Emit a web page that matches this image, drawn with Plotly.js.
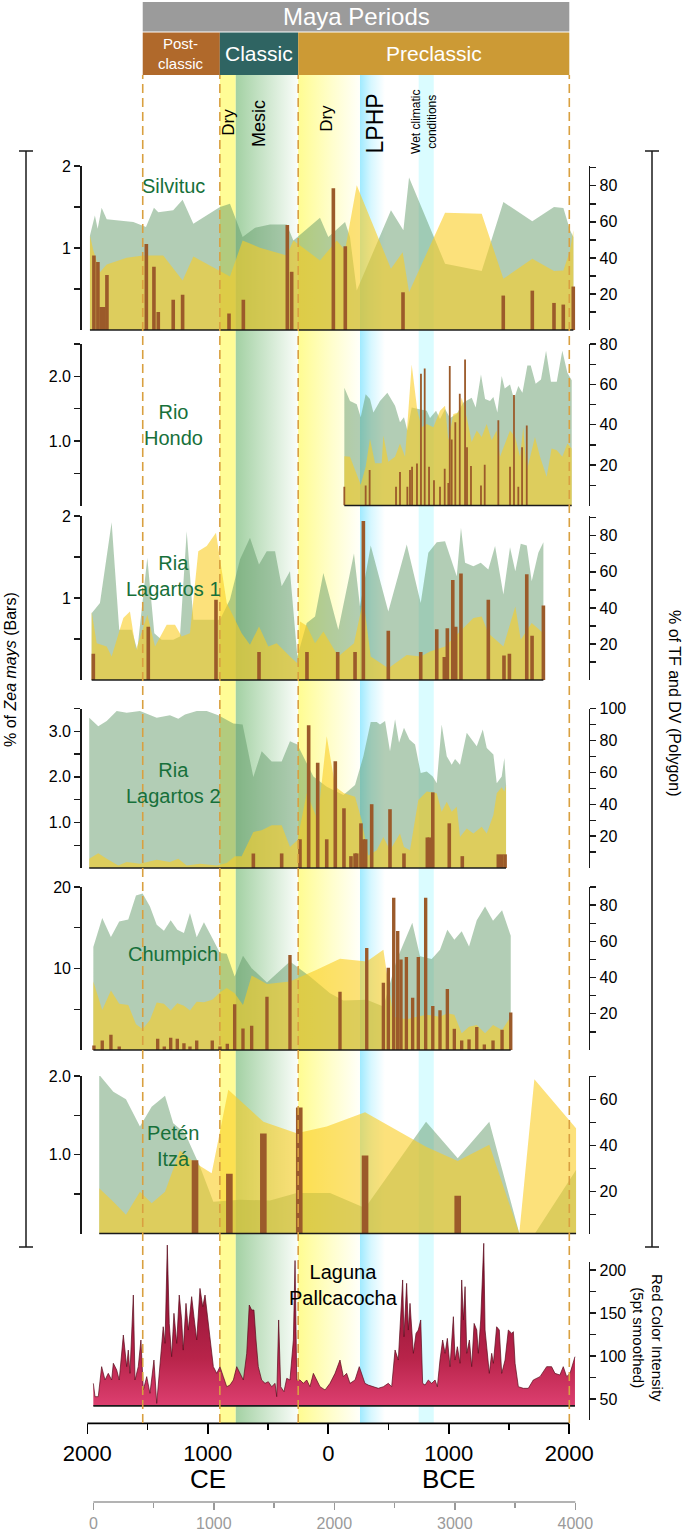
<!DOCTYPE html>
<html><head><meta charset="utf-8">
<script src="https://cdn.plot.ly/plotly-3.0.1.min.js"></script>
<style>html,body{margin:0;padding:0;background:#fff}#chart{width:685px;height:1535px}</style>
</head><body><div id="chart"></div>
<script>
// ================= DATA =================
// x values are calendar years: negative = CE, positive = BCE
const periodNames = ['Post-<br>classic', 'Classic', 'Preclassic'];
const periodStart = [-1540, -900, -250];
const periodEnd   = [-900, -250, 2000];
const mayaTitle = 'Maya Periods';
const dashedYears = [-1540, -900, -250, 2000];
const climateLabels = ['Dry', 'Mesic', 'Dry', 'LPHP', 'Wet climatic<br>conditions'];
const climateStart = [-900, -768, -250, 263, 750];
const climateEnd   = [-768, -250, 263, 470, 875];

const xTickVals = [-2000, -1000, 0, 1000, 2000];
const xTickText = ['2000', '1000', '0', '1000', '2000'];
const xMinorVals = [-1500, -500, 500, 1500];
const eraLabels = ['CE', 'BCE'];
const eraYears = [-1000, 1000];
const bpOffset = 1950;
const bpTickVals = [0, 1000, 2000, 3000, 4000];
const bpMinorVals = [500, 1500, 2500, 3500];

// Silvituc
const silvitucBarYear = [-1945,-1912,-1885,-1862,-1837,-1510,-1447,-1411,-1287,-1209,-824,-705,-340,-304,42,141,620,1452,1693,1873,1950,2033];
const silvitucBarPct  = [0.91,0.83,0.28,0.28,0.67,1.05,0.77,0.22,0.37,0.43,0.2,0.37,1.28,0.71,1.73,1.02,0.46,0.42,0.48,0.33,0.31,0.53];
const silvitucTfYear = [-1978,-1937,-1914,-1881,-1839,-1618,-1513,-1447,-1411,-1287,-1209,-1120,-899,-816,-711,-608,-484,-345,-290,-69,0,139,180,236,520,623,670,880,969,1273,1453,1693,1873,1951,2006,2034];
const silvitucTfPct  = [52.5,63.6,56.2,67.9,61.4,59.9,57.1,67.9,65.4,66.4,72.3,59,68.2,70.1,51.6,56.8,58.6,58.6,49.7,62.3,51.6,59.9,51.6,21.9,66.4,55.3,84.6,51.6,36.8,32.7,71,60.4,68.2,67.7,55.3,51.6];
const silvitucDvYear = [-1978,-1950,-1895,-1839,-1673,-1535,-1370,-1209,-1120,-899,-816,-711,-567,-345,-290,-69,70,139,236,520,617,670,880,969,1273,1453,1693,1873,1951,2006,2034];
const silvitucDvPct  = [52.5,44.2,32.1,36.4,40.1,41.4,41.4,27.5,40.8,33,29.7,49.7,45.7,41.4,49.7,38.6,49.7,44.2,80.3,34,43.2,21,51.6,65.1,64.5,28.4,39.6,32.7,33,44.2,55.3];

// Rio Hondo
const rioHondoBarYear = [133,310,343,562,595,656,678,695,736,769,800,836,877,927,966,996,1008,1024,1054,1091,1135,1151,1184,1267,1298,1411,1508,1541,1577,1608,1647];
const rioHondoBarPct  = [0.29,0.31,0.55,0.29,0.52,0.29,0.55,0.6,0.65,2.04,2.12,0.6,0.39,0.29,0.57,0.35,2.16,1.02,1.29,1.73,2.26,0.9,0.61,0.31,0.63,1.32,0.6,1.71,0.29,0.9,1.24];
const rioHondoTfYear = [133,180,236,269,310,346,374,429,490,554,595,628,656,692,747,817,844,894,927,969,1010,1066,1121,1190,1223,1267,1301,1342,1370,1403,1439,1464,1508,1541,1577,1611,1652,1680,1721,1765,1807,1848,1896,1942,1984,2020];
const rioHondoTfPct  = [58.3,51.8,50.2,43.7,55.1,52.7,46.1,51.8,55.9,49.4,41.2,43.7,37.2,48.6,47.8,46.9,43.4,46.9,42.9,47.8,43.4,45.3,51,53.4,48.6,64.9,52.7,51.8,53.8,46.1,64.1,58,60,52.7,59.2,55.9,69.4,69.4,60.3,62.4,76.6,61.3,61.3,76.6,65.7,62];
const rioHondoDvYear = [133,180,269,310,346,388,443,457,498,554,595,637,692,739,775,817,872,927,969,996,1038,1079,1107,1149,1190,1232,1273,1314,1356,1397,1425,1453,1508,1550,1591,1618,1646,1715,1757,1812,1853,1896,1942,1984,2020];
const rioHondoDvPct  = [24.4,24.1,10.3,19.2,33.1,20.9,20.9,34.7,21.7,24.1,30.7,24.1,69.8,46.9,38.8,40.4,38.8,46.9,49.4,32.3,45.3,46.1,53.4,43.7,31.4,37.2,33.9,40.4,32.3,37.2,24.1,28.2,37.2,33.9,24.1,38.8,16.8,33.9,24.1,14.3,28.2,27.4,24.1,30.7,28.2];

// Ria Lagartos 1
const rl1BarYear = [-1950,-1494,-932,-575,-177,78,222,291,498,767,900,963,988,1033,1057,1101,1328,1458,1503,1647,1691,1785];
const rl1BarPct  = [0.32,0.65,0.98,0.34,0.34,0.34,0.34,1.94,0.6,0.34,0.62,0.28,0.63,1.22,0.65,1.3,0.98,0.3,0.32,1.29,0.54,0.91];
const rl1TfYear = [-1964,-1895,-1798,-1735,-1632,-1585,-1502,-1444,-1383,-1287,-1231,-1175,-1120,-899,-816,-733,-650,-575,-511,-442,-387,-318,-257,-179,-110,-41,83,213,263,352,498,651,767,830,900,969,1066,1101,1135,1204,1265,1328,1384,1453,1508,1552,1597,1647,1688,1743,1785];
const rl1TfPct  = [37.1,42.7,87.6,27.9,27.9,16.7,67.8,26,22.3,22.3,24.1,82.6,33.4,33.4,44.6,66.9,78.9,64.1,71.5,71.5,52,60.3,13,31.6,35.3,59.4,27.9,70.2,40.8,74.7,38,75.2,42.7,70.6,76.5,77,57.5,84.5,65,63.1,65,61.3,74.3,47.4,73.7,60.3,75.6,74.7,54.8,70.6,76.5];
const rl1DvYear = [-1964,-1922,-1839,-1798,-1701,-1646,-1596,-1502,-1438,-1341,-1272,-1217,-1148,-1079,-1009,-932,-843,-788,-719,-650,-575,-498,-428,-318,-257,-235,-179,-110,-41,83,213,291,352,498,651,767,844,969,1204,1273,1328,1453,1552,1597,1688,1785];
const rl1DvPct  = [38,20.4,18.6,13,34.4,38,16.7,36.2,18.6,30.6,30.6,24.1,26,71.5,74.3,81.7,42.7,35.3,26,19.5,29.7,18.6,20.4,13,9.3,32.5,30.1,20.4,26.9,13,20.4,44.6,13,6.5,13.9,13,15.8,18.6,34.4,35.3,26,18.6,40.8,22.3,31.6,26];

// Ria Lagartos 2
const rl2BarYear = [-622,-387,-235,-163,-88,-13,58,130,188,222,236,271,291,310,360,512,628,822,838,867,1004,1112,1411,1439,1467];
const rl2BarPct  = [0.32,0.32,0.63,3.13,2.31,0.63,2.34,1.31,0.26,0.32,0.32,0.98,0.63,0.63,1.4,1.29,0.32,0.67,0.67,1.66,0.98,0.26,0.3,0.3,0.3];
const rl2TfYear = [-1984,-1909,-1839,-1756,-1673,-1563,-1424,-1314,-1245,-1189,-1092,-1009,-913,-788,-711,-622,-553,-470,-387,-318,-257,-124,-13,125,222,291,352,402,429,471,512,554,587,628,673,720,767,817,867,900,941,983,1024,1052,1093,1149,1190,1232,1282,1315,1370,1398,1439,1461,1475];
const rl2TfPct  = [94.2,88.9,92.1,98.4,97.4,98.4,94.2,95.7,93.6,96.3,98.4,98.4,95.7,90.6,90,57,73.2,66.8,66.8,79.5,77.4,57.4,51,45.8,52.1,70,91.5,91.5,90,92.1,73.2,93.2,78.5,87.9,80.5,77.4,59.5,60.5,57.4,53.2,90,70,64.8,68.3,64.8,84.8,80.5,76.3,86.9,75.3,71.1,53.2,57.4,69,52.1];
const rl2DvYear = [-1984,-1909,-1839,-1743,-1673,-1563,-1424,-1314,-1245,-1175,-1065,-926,-843,-774,-719,-622,-553,-470,-387,-318,-257,-179,-88,-13,58,111,130,222,277,332,402,457,512,595,628,678,747,817,900,941,983,1024,1066,1093,1149,1204,1273,1315,1370,1398,1439,1461,1475];
const rl2DvPct  = [5.8,9.3,5.8,1.6,3.7,2.6,5.2,3.7,5.8,1.6,2.6,1.6,3.2,7.3,7.3,22.6,23.7,26.8,26.8,13.1,17.4,46.9,30,82.6,51,47.9,46.9,44.7,30,7.9,11.1,19.5,11.1,21.6,13.1,11.1,42.6,47.9,46.9,35.2,41.6,35.2,38.4,19.5,24.8,21.6,25.8,21.6,33.2,46.9,50.7,47.9,52.1];

// Chumpich
const chumpichBarYear = [-1945,-1876,-1804,-1735,-1416,-1361,-1308,-1253,-1198,-1148,-1092,-963,-899,-838,-777,-708,-636,-509,-318,97,319,457,498,543,576,603,648,700,747,808,867,927,988,1046,1107,1168,1232,1295,1367,1442,1514];
const chumpichBarPct  = [0.56,1.17,1.87,0.43,1.38,0.43,1.5,1.38,0.84,0.43,1.17,1.17,0.43,0.76,5.6,2.65,2.98,6.52,11.67,7.14,12.5,8.25,10.1,18.67,14.6,11.1,11.4,6.4,11.4,18.67,5.4,4.88,7.47,2.6,1.17,1.3,2.82,0.68,1.17,2.48,4.6];
const chumpichTfYear = [-1950,-1876,-1804,-1735,-1660,-1596,-1541,-1480,-1424,-1364,-1308,-1253,-1198,-1148,-1092,-1032,-963,-899,-843,-777,-708,-636,-509,-318,-152,14,125,319,457,568,697,761,858,927,988,1046,1107,1168,1232,1301,1367,1442,1514];
const chumpichTfPct  = [56.9,72.9,62.4,71,72,85.3,86.4,79.3,69.2,65.9,71.6,66.4,64.6,75.7,62.2,70.5,61.8,53.5,53.2,40.6,52,45.2,37.3,48.9,40.6,31.4,27.3,27.7,24,49.8,70.2,51.7,50.2,55.4,66.4,60.9,65.5,57.2,71.6,79.3,71.4,77.1,63.1];
const chumpichDvYear = [-1950,-1876,-1804,-1735,-1660,-1596,-1541,-1480,-1424,-1364,-1308,-1253,-1198,-1148,-1092,-1032,-963,-899,-843,-777,-708,-636,-509,-318,-96,14,97,319,457,540,651,734,817,927,988,1046,1107,1168,1232,1301,1367,1442,1514];
const chumpichDvPct  = [37.8,22.1,32.8,25.5,24.9,14.2,11.6,16.6,26.2,25.5,21.8,25.8,24.5,21.8,26.7,26.4,27.7,31.9,34.2,31.4,24.9,41.1,36.5,37.8,44.3,48,50.4,48.9,55.4,18.4,17,18.4,19.4,18.4,20.3,19.4,9.2,12.9,13.8,9.2,13.8,11.1,18.4];

// Petén Itzá
const petenBarYear = [-1106,-821,-539,-241,305,1074];
const petenBarPct  = [0.93,0.76,1.27,1.6,0.99,0.48];
const petenTfYear = [-1901,-1784,-1679,-1563,-1466,-1355,-1287,-1189,-1065,-954,-733,-484,-262,14,305,811,1074,1336,1585,1716,2056];
const petenTfPct  = [70.6,63.3,60,48.2,56.8,61.5,49.6,45.3,30.9,15.7,16.5,16.2,19.4,19.4,12.9,50.3,34.5,50.3,2,2,29.4];
const petenDvYear = [-1901,-1784,-1679,-1563,-1466,-1355,-1231,-1120,-968,-830,-539,-262,-13,305,811,1074,1336,1585,1710,2056];
const petenDvPct  = [21.5,15.7,10,20,15,20,37.8,33,28,64.1,50.3,45.3,48.2,54.4,39.5,33.3,40.3,2,68.7,47.5];

// Laguna Pallcacocha red colour intensity
const lagunaBase = 42;
const lagunaYear = [-1950,-1936,-1909,-1881,-1853,-1826,-1798,-1784,-1756,-1735,-1701,-1673,-1660,-1646,-1618,-1604,-1577,-1555,-1535,-1507,-1480,-1447,-1424,-1397,-1370,-1355,-1336,-1320,-1300,-1281,-1258,-1237,-1217,-1204,-1181,-1162,-1134,-1115,-1092,-1065,-1042,-1023,-1004,-982,-954,-926,-899,-871,-843,-816,-788,-760,-733,-705,-677,-656,-636,-617,-600,-581,-553,-525,-498,-470,-442,-428,-412,-395,-368,-345,-318,-290,-276,-262,-235,-207,-179,-152,-124,-96,-69,-27,14,56,97,125,152,180,222,257,277,304,332,374,415,457,498,526,554,581,600,617,628,650,664,678,706,728,747,767,783,803,830,858,886,905,927,949,969,988,1010,1038,1052,1071,1093,1107,1121,1135,1149,1171,1190,1210,1232,1245,1265,1281,1290,1301,1314,1336,1356,1370,1397,1419,1439,1467,1494,1522,1536,1550,1577,1619,1660,1701,1757,1812,1853,1881,1922,1950,1978,2006,2047];
const lagunaRed = [68.2,52.7,52.7,87.6,72.1,79.8,72.1,91.5,83.7,72.1,124.4,87.6,106.9,79.8,170.9,72.1,87.6,118.6,60.5,76,56.6,95.3,44.9,87.6,134,114.7,229,137.9,99.2,149.6,114.7,170.9,141.9,106.9,161.2,130.2,169,145.7,118.6,178.6,157.3,170.9,145.7,118.6,87.6,79.8,87.6,76,64.3,66.2,72.1,87.6,79.8,72.1,103.1,159.3,153.5,153.5,118.6,87.6,72.1,68.2,70.1,64.3,68.2,52.7,141.9,64.3,58.5,74,72.1,118.6,211,72.1,72.1,68.2,72.1,64.3,79.8,72.1,64.3,60.5,68.2,79.8,95.3,76,79.8,68.2,72.1,87.6,79.8,68.2,66.2,64.3,62.4,64.3,68.2,64.3,107,95.3,145.7,188.4,122.4,184.5,130.2,161.2,103.1,126.3,130.2,141.9,68.2,66.2,72.1,68.2,72.1,64.3,95.3,118.6,103.1,120.5,87.6,145.7,95.3,110.8,91.5,188.4,141.9,180.6,103.1,118.6,87.6,137.9,130.2,103.1,141.9,196,231,130.2,110.8,79.8,103.1,91.5,134,130.2,79.8,95.3,130.2,126.3,128.3,91.5,64.3,62.4,62.4,72.1,76,87.6,87.6,79.8,77.9,87.6,76,79.8,99.2];

// axis tick labels
const ticks = {
  silvitucL: [[0.5,1,1.5,2], ['','1','','2']],
  silvitucR: [[10,20,30,40,50,60,70,80,90], ['','20','','40','','60','','80','']],
  rioHondoL: [[0.5,1,1.5,2,2.5], ['','1.0','','2.0','']],
  rioHondoR: [[10,20,30,40,50,60,70,80], ['','20','','40','','60','','80']],
  rl1L: [[0.5,1,1.5,2], ['','1','','2']],
  rl1R: [[10,20,30,40,50,60,70,80,90], ['','20','','40','','60','','80','']],
  rl2L: [[0.5,1,1.5,2,2.5,3,3.5], ['','1.0','','2.0','','3.0','']],
  rl2R: [[10,20,30,40,50,60,70,80,90,100], ['','20','','40','','60','','80','','100']],
  chumpichL: [[5,10,15,20], ['','10','','20']],
  chumpichR: [[10,20,30,40,50,60,70,80,90], ['','20','','40','','60','','80','']],
  petenL: [[0.5,1,1.5,2], ['','1.0','','2.0']],
  petenR: [[10,20,30,40,50,60,70], ['','20','','40','','60','']],
  lagunaR: [[50,75,100,125,150,175,200], ['50','','100','','150','','200']]
};

// ================= LAYOUT / STYLE =================
const W = 685, H = 1535;
const fx = p => p / W;
const fy = p => 1 - p / H;
const FONT = 'Liberation Sans, Arial, Helvetica, sans-serif';
const GREEN = 'rgba(95,150,100,0.48)';
const YELLOW = 'rgba(250,205,35,0.6)';
const BROWN = '#9b5a2a';
const TITLE_GREEN = '#17703a';
// x scale: 0 yr at 328.3px, 0.1205 px per year
const X0PX = 328.3, PXPERYR = 0.1205;
const xAt = p => (p - X0PX) / PXPERYR;
const xMin = xAt(81.5), xMax = xAt(589);
const BP_AXIS_Y = 1502;

const panels = [
  {bx:silvitucBarYear, by:silvitucBarPct, tx:silvitucTfYear, ty:silvitucTfPct, dx:silvitucDvYear, dy:silvitucDvPct,
   top:166, bottom:330, lr:[0,2], rr:[0,91], lt:ticks.silvitucL, rt:ticks.silvitucR, bw:30,
   label:'Silvituc', lx:174, ly:186},
  {bx:rioHondoBarYear, by:rioHondoBarPct, tx:rioHondoTfYear, ty:rioHondoTfPct, dx:rioHondoDvYear, dy:rioHondoDvPct,
   top:344, bottom:505.5, lr:[0,2.5], rr:[0,80], lt:ticks.rioHondoL, rt:ticks.rioHondoR, bw:15,
   label:'Rio<br>Hondo', lx:173, ly:425},
  {bx:rl1BarYear, by:rl1BarPct, tx:rl1TfYear, ty:rl1TfPct, dx:rl1DvYear, dy:rl1DvPct,
   top:516, bottom:680, lr:[0,2], rr:[0,91], lt:ticks.rl1L, rt:ticks.rl1R, bw:30,
   label:'Ria<br>Lagartos 1', lx:173, ly:576},
  {bx:rl2BarYear, by:rl2BarPct, tx:rl2TfYear, ty:rl2TfPct, dx:rl2DvYear, dy:rl2DvPct,
   top:708.5, bottom:868, lr:[0,3.5], rr:[0,100], lt:ticks.rl2L, rt:ticks.rl2R, bw:30,
   label:'Ria<br>Lagartos 2', lx:173, ly:783},
  {bx:chumpichBarYear, by:chumpichBarPct, tx:chumpichTfYear, ty:chumpichTfPct, dx:chumpichDvYear, dy:chumpichDvPct,
   top:887, bottom:1050, lr:[0,20], rr:[0,90], lt:ticks.chumpichL, rt:ticks.chumpichR, bw:28,
   label:'Chumpich', lx:173, ly:954},
  {bx:petenBarYear, by:petenBarPct, tx:petenTfYear, ty:petenTfPct, dx:petenDvYear, dy:petenDvPct,
   top:1076, bottom:1233.5, lr:[0,2], rr:[1.9,70.1], lt:ticks.petenL, rt:ticks.petenR, bw:55,
   label:'Petén<br>Itzá', lx:173, ly:1146}
];

const traces = [];
const shapes = [];
const annotations = [];
const ann = (text, xpx, ypx, o) => annotations.push(Object.assign({text, xref:'paper', yref:'paper', x:fx(xpx), y:fy(ypx), showarrow:false, xanchor:'center', yanchor:'middle'}, o || {}));

// ---- climate bands (background subplot x/y) ----
const bandStyles = [
  {fillcolor:'rgb(255,252,150)'},
  {fillgradient:{type:'horizontal', colorscale:[[0,'rgb(163,209,163)'],[1,'rgb(250,253,250)']], start:climateStart[1], stop:climateEnd[1]}},
  {fillgradient:{type:'horizontal', colorscale:[[0,'rgb(255,252,145)'],[0.55,'rgb(255,254,205)'],[1,'rgb(255,255,250)']], start:climateStart[2], stop:climateEnd[2]}},
  {fillgradient:{type:'horizontal', colorscale:[[0,'rgb(160,234,255)'],[0.45,'rgb(215,247,255)'],[1,'rgb(255,255,255)']], start:climateStart[3], stop:climateEnd[3]}},
  {fillcolor:'rgb(218,252,255)'}
];
climateStart.forEach((a, i) => {
  const b = climateEnd[i];
  traces.push(Object.assign({type:'scatter', x:[a,b,b,a,a], y:[0,0,1,1,0], xaxis:'x', yaxis:'y',
    mode:'lines', line:{width:0}, fill:'toself', hoverinfo:'skip', showlegend:false}, bandStyles[i]));
});
// dummy trace for the BP axis
traces.push({type:'scatter', x:[], y:[], xaxis:'x2', yaxis:'y', mode:'lines', hoverinfo:'skip', showlegend:false});

const layout = {
  width:W, height:H, margin:{l:0,r:0,t:0,b:0}, paper_bgcolor:'#ffffff', plot_bgcolor:'rgba(0,0,0,0)',
  showlegend:false, barmode:'overlay', hovermode:false, font:{family:FONT, color:'#000', size:16},
  xaxis:{domain:[fx(81.5), fx(589)], range:[xMin, xMax], anchor:'free', position:fy(1423.3),
    showline:false, showgrid:false, zeroline:false, ticks:'outside', ticklen:10, tickwidth:1.6, tickcolor:'#000',
    tickvals:xTickVals, ticktext:xTickText, tickfont:{size:22, color:'#000'},
    minor:{tickvals:xMinorVals, ticks:'outside', ticklen:6, tickwidth:1.6, tickcolor:'#000', showgrid:false}, fixedrange:true},
  xaxis2:{overlaying:'x', anchor:'free', position:fy(BP_AXIS_Y), side:'bottom', range:[xMin+bpOffset, xMax+bpOffset],
    showline:false, showgrid:false, zeroline:false, ticks:'outside', ticklen:7, tickwidth:1.6, tickcolor:'#9a9a9a',
    tickvals:bpTickVals, ticktext:bpTickVals.map(String), tickfont:{size:16, color:'#9a9a9a'},
    minor:{tickvals:bpMinorVals, ticks:'outside', ticklen:5, tickwidth:1.6, tickcolor:'#9a9a9a', showgrid:false}, fixedrange:true},
  yaxis:{domain:[fy(1423.3), fy(75)], range:[0,1], visible:false, fixedrange:true}
};

const axisCommon = {showline:true, linecolor:'#1a1a1a', linewidth:1.3, ticks:'outside', ticklen:6, tickwidth:1.3,
  tickcolor:'#1a1a1a', showgrid:false, zeroline:false, tickfont:{size:16, color:'#000'}, fixedrange:true};

panels.forEach((p, k) => {
  const rId = 2 + k, lId = 8 + k;
  layout['yaxis' + rId] = Object.assign({}, axisCommon, {domain:[fy(p.bottom), fy(p.top)], range:p.rr, side:'right', anchor:'x',
    tickvals:p.rt[0], ticktext:p.rt[1]});
  layout['yaxis' + lId] = Object.assign({}, axisCommon, {overlaying:'y' + rId, range:p.lr, side:'left', anchor:'x',
    tickvals:p.lt[0], ticktext:p.lt[1]});
  traces.push({type:'scatter', x:p.tx, y:p.ty, xaxis:'x', yaxis:'y' + rId, mode:'lines', line:{width:0},
    fill:'tozeroy', fillcolor:GREEN, hoverinfo:'skip'});
  traces.push({type:'scatter', x:p.dx, y:p.dy, xaxis:'x', yaxis:'y' + rId, mode:'lines', line:{width:0},
    fill:'tozeroy', fillcolor:YELLOW, hoverinfo:'skip'});
  traces.push({type:'bar', x:p.bx, y:p.by, xaxis:'x', yaxis:'y' + lId, width:p.bw,
    marker:{color:BROWN, line:{width:0}}, hoverinfo:'skip'});
  const all = p.bx.concat(p.tx, p.dx);
  shapes.push({type:'line', xref:'x', yref:'paper', x0:Math.min(...all), x1:Math.max(...all),
    y0:fy(p.bottom), y1:fy(p.bottom), line:{color:'#1a1a1a', width:1.6}, layer:'above'});
  ann(p.label, p.lx, p.ly, {font:{size:20, color:TITLE_GREEN}});
});

// ---- Laguna Pallcacocha ----
layout.yaxis14 = {domain:[fy(1399 + (50 - lagunaBase) * 0.86), fy(1240)], range:[lagunaBase, 50 + (1399 - 1240) / 0.86],
  visible:false, fixedrange:true};
layout.yaxis15 = Object.assign({}, axisCommon, {domain:[fy(1420), fy(1262)], range:[50 - 21 / 0.86, 50 + 137 / 0.86],
  side:'right', anchor:'x', tickvals:ticks.lagunaR[0], ticktext:ticks.lagunaR[1]});
traces.push({type:'scatter', x:lagunaYear, y:lagunaRed, xaxis:'x', yaxis:'y14', mode:'lines',
  line:{color:'#5a0c1c', width:0.7}, fill:'tozeroy',
  fillgradient:{type:'vertical', colorscale:[[0,'#dd3f70'],[0.35,'#b8244a'],[1,'#8a1030']], start:lagunaBase, stop:200},
  hoverinfo:'skip'});
traces.push({type:'scatter', x:[lagunaYear[0], lagunaYear[lagunaYear.length - 1]], y:[lagunaBase, lagunaBase],
  xaxis:'x', yaxis:'y15', mode:'lines', line:{color:'#1a1a1a', width:1.6}, hoverinfo:'skip'});
ann('Laguna<br>Pallcacocha', 343, 1285, {font:{size:20, color:'#000'}});
ann('Red Color Intensity<br>(5pt smoothed)', 648, 1338, {textangle:90, font:{size:15, color:'#000'}});

// ---- main x axis lines ----
shapes.push({type:'line', xref:'x', yref:'paper', x0:xTickVals[0], x1:xTickVals[xTickVals.length - 1],
  y0:fy(1423.3), y1:fy(1423.3), line:{color:'#000', width:1.8}, layer:'above'});
shapes.push({type:'line', xref:'x', yref:'paper', x0:bpTickVals[0] - bpOffset, x1:bpTickVals[bpTickVals.length - 1] - bpOffset,
  y0:fy(BP_AXIS_Y), y1:fy(BP_AXIS_Y), line:{color:'#9a9a9a', width:1.6}, layer:'above'});
eraLabels.forEach((t, i) => annotations.push({text:t, xref:'x', yref:'paper', x:eraYears[i], y:fy(1479),
  showarrow:false, xanchor:'center', yanchor:'middle', font:{size:26, color:'#000'}}));

// ---- dashed period boundaries ----
dashedYears.forEach(v => shapes.push({type:'line', xref:'x', yref:'paper', x0:v, x1:v, y0:fy(1423), y1:fy(75),
  line:{color:'#d9a040', width:1.6, dash:'9px,5px'}, layer:'above'}));

// ---- Maya periods header ----
shapes.push({type:'rect', xref:'x', yref:'paper', x0:periodStart[0], x1:periodEnd[periodEnd.length - 1],
  y0:fy(31.5), y1:fy(2), fillcolor:'#9b9b9b', line:{width:0}, layer:'above'});
annotations.push({text:mayaTitle, xref:'x', yref:'paper', x:(periodStart[0] + periodEnd[periodEnd.length - 1]) / 2,
  y:fy(17), showarrow:false, xanchor:'center', yanchor:'middle', font:{size:24, color:'#fff'}});
const periodColors = ['#b0692b', '#2f6462', '#cc9a35'];
const periodFont = [15, 21, 21];
periodNames.forEach((n, i) => {
  shapes.push({type:'rect', xref:'x', yref:'paper', x0:periodStart[i], x1:periodEnd[i], y0:fy(75), y1:fy(32.5),
    fillcolor:periodColors[i], line:{width:0}, layer:'above'});
  annotations.push({text:n, xref:'x', yref:'paper', x:(periodStart[i] + periodEnd[i]) / 2, y:fy(54),
    showarrow:false, xanchor:'center', yanchor:'middle', font:{size:periodFont[i], color:'#fff'}});
});

// ---- climate labels (rotated) ----
const climLabelX = [-834, -576, -12, 391, 794];
const climLabelY = [122, 123, 118, 123, 122];
const climLabelSize = [17, 18, 17, 23, 12];
climateLabels.forEach((t, i) => annotations.push({text:t, xref:'x', yref:'paper', x:climLabelX[i], y:fy(climLabelY[i]),
  showarrow:false, xanchor:'center', yanchor:'middle', textangle:-90, font:{size:climLabelSize[i], color:'#000'}}));

// ---- brackets and side titles ----
[[26, 19, 33], [652, 645, 659]].forEach(b => {
  shapes.push({type:'line', xref:'paper', yref:'paper', x0:fx(b[0]), x1:fx(b[0]), y0:fy(1247), y1:fy(151), line:{color:'#1a1a1a', width:1.5}});
  shapes.push({type:'line', xref:'paper', yref:'paper', x0:fx(b[1]), x1:fx(b[2]), y0:fy(151), y1:fy(151), line:{color:'#1a1a1a', width:1.5}});
  shapes.push({type:'line', xref:'paper', yref:'paper', x0:fx(b[1]), x1:fx(b[2]), y0:fy(1247), y1:fy(1247), line:{color:'#1a1a1a', width:1.5}});
});
ann('% of <i>Zea mays</i> (Bars)', 10, 670, {textangle:-90, font:{size:16, color:'#000'}});
ann('% of TF and DV (Polygon)', 675, 703, {textangle:90, font:{size:16, color:'#000'}});

layout.shapes = shapes;
layout.annotations = annotations;

Plotly.newPlot('chart', traces, layout, {staticPlot:true, displayModeBar:false});
</script>
</body></html>
